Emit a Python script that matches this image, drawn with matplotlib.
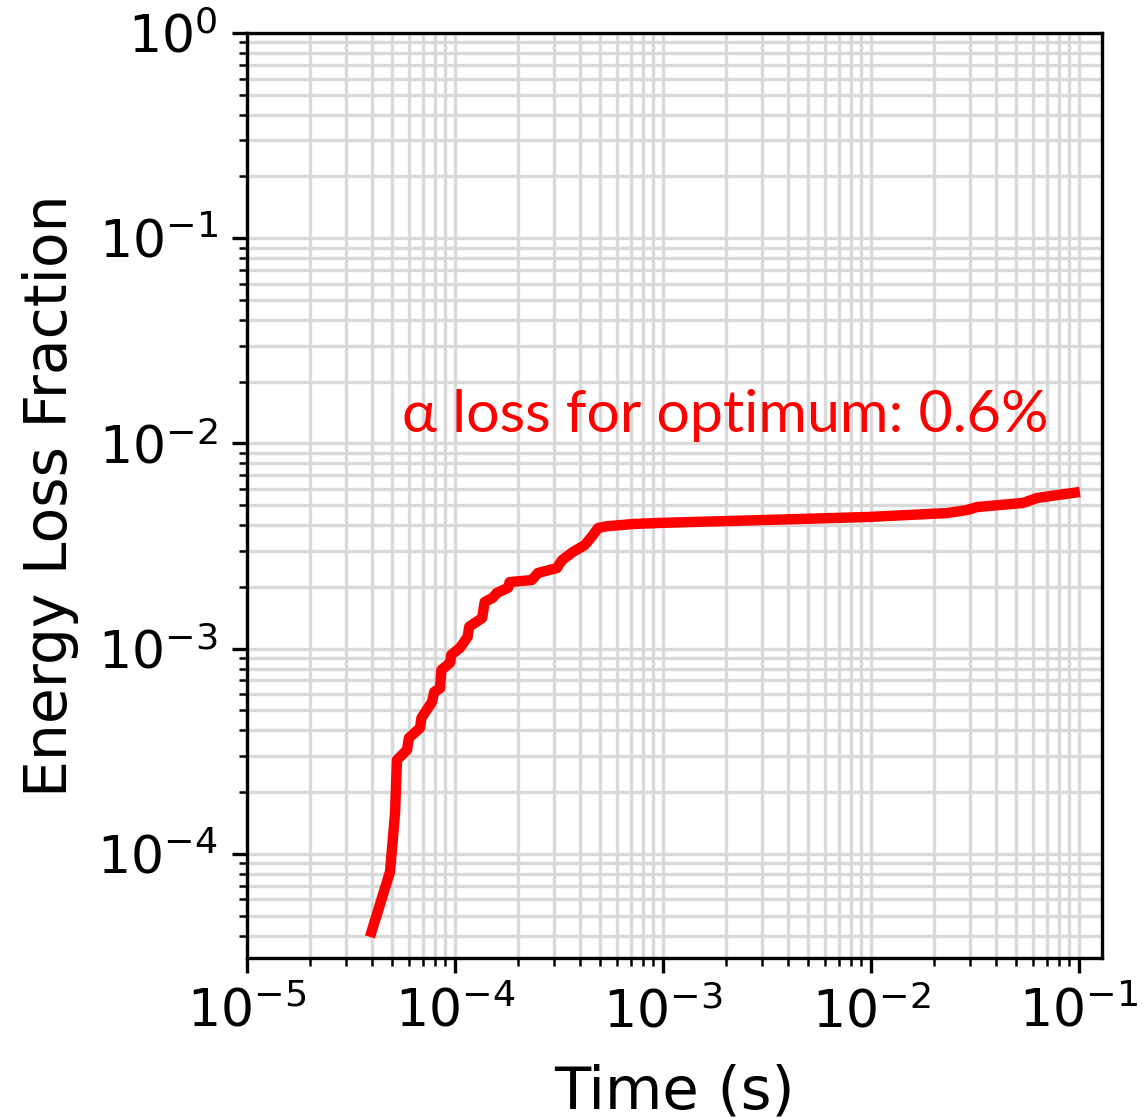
import matplotlib
matplotlib.use("Agg")
import matplotlib.pyplot as plt
import numpy as np

# energy loss fraction vs time
time_s = [3.9e-5, 4.87e-5, 5.15e-5, 5.26e-5, 5.88e-5, 6.0e-5, 6.79e-5, 6.9e-5,
          7.75e-5, 7.95e-5, 8.47e-5, 8.6e-5, 9.46e-5, 9.6e-5, 1.057e-4, 1.15e-4,
          1.17e-4, 1.35e-4, 1.39e-4, 1.52e-4, 1.59e-4, 1.80e-4, 1.83e-4, 2.34e-4,
          2.51e-4, 3.09e-4, 3.27e-4, 3.69e-4, 4.21e-4, 4.61e-4, 4.87e-4, 5.38e-4,
          7.18e-4, 9.68e-4, 3.16e-3, 9.57e-3, 2.32e-2, 2.9e-2, 3.24e-2, 5.38e-2,
          6.28e-2, 7.84e-2, 0.101]
loss_frac = [3.94e-5, 8.17e-5, 1.58e-4, 2.87e-4, 3.21e-4, 3.67e-4, 4.11e-4, 4.6e-4,
             5.5e-4, 6.16e-4, 6.4e-4, 7.88e-4, 8.53e-4, 9.33e-4, 1.01e-3, 1.14e-3,
             1.28e-3, 1.41e-3, 1.69e-3, 1.77e-3, 1.87e-3, 1.98e-3, 2.11e-3, 2.16e-3,
             2.34e-3, 2.47e-3, 2.7e-3, 2.96e-3, 3.2e-3, 3.58e-3, 3.87e-3, 3.95e-3,
             4.05e-3, 4.1e-3, 4.24e-3, 4.38e-3, 4.58e-3, 4.74e-3, 4.9e-3, 5.13e-3,
             5.42e-3, 5.6e-3, 5.8e-3]

note = "\u03b1 loss for optimum: 0.6%"

fig = plt.figure(figsize=(1142/300, 1118/300), dpi=300)
ax = fig.add_axes([247/1142, 1 - 958/1118, (1102-247)/1142, (958-33)/1118])

ax.plot(time_s, loss_frac, color='red', lw=2.5, solid_capstyle='butt')
ax.set_xscale('log')
ax.set_yscale('log')
ax.set_xlim(1e-5, 0.129)
ax.set_ylim(3.11e-5, 1.0)
ax.grid(True, which='both', color='#d9d9d9', lw=0.8)
ax.set_axisbelow(True)

ax.tick_params(labelsize=12.5)
ax.set_xlabel('Time (s)', fontsize=14.2, labelpad=6)
ax.set_ylabel('Energy Loss Fraction', fontsize=14, labelpad=4.5)

ax.text(5.56e-5, 1.14e-2, note, color='red', fontsize=14.2,
        family=['Lato', 'DejaVu Sans'], ha='left', va='baseline')

fig.savefig('out.png', dpi=300)
